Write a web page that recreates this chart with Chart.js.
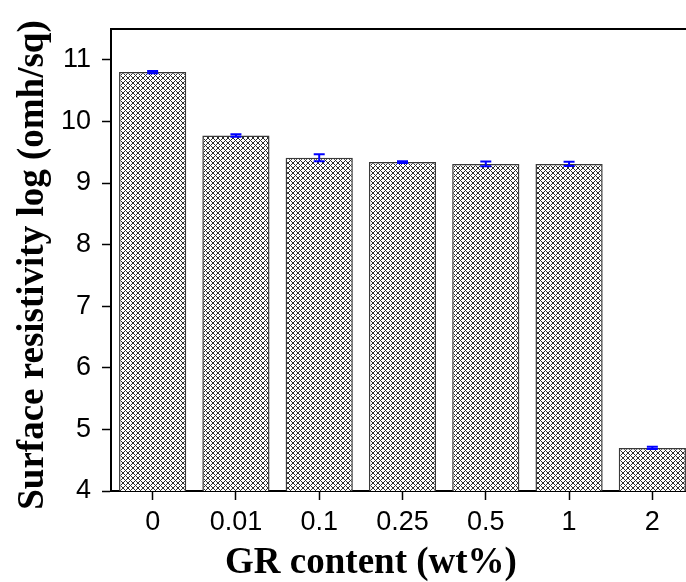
<!DOCTYPE html>
<html>
<head>
<meta charset="utf-8">
<script src="https://cdn.jsdelivr.net/npm/chart.js@4/dist/chart.umd.min.js"></script>
<style>
  html, body { margin: 0; padding: 0; background: #fff; overflow: hidden; }
  #wrap { width: 686px; height: 582px; overflow: hidden; }
</style>
</head>
<body>
<div id="wrap"><canvas id="resistivity-chart" width="702" height="582"></canvas></div>
<script>
const categories = ["0", "0.01", "0.1", "0.25", "0.5", "1", "2"];
const resistivity = [10.80, 9.77, 9.41, 9.34, 9.31, 9.31, 4.70];
const errors = [0.02, 0.02, 0.055, 0.015, 0.04, 0.035, 0.02];
const yTickValues = [4, 5, 6, 7, 8, 9, 10, 11];

const ctx = document.getElementById("resistivity-chart").getContext("2d");

// crosshatch fill for the bars
const tile = document.createElement("canvas");
tile.width = 5;
tile.height = 5;
const tctx = tile.getContext("2d");
tctx.fillStyle = "#ffffff";
tctx.fillRect(0, 0, 5, 5);
tctx.fillStyle = "#2e2e2e";
for (let x = 0; x < 5; x++) {
    for (let y = 0; y < 5; y++) {
        if ((x + y) % 5 === 0 || (x - y + 5) % 5 === 0) tctx.fillRect(x, y, 1, 1);
    }
}
const hatch = ctx.createPattern(tile, "repeat");

const extras = {
    id: "extras",
    afterDatasetsDraw: (chart) => {
        const c = chart.ctx;
        const meta = chart.getDatasetMeta(0);
        const y = chart.scales.y;
        c.save();
        c.strokeStyle = "#0000ff";
        c.lineWidth = 2;
        meta.data.forEach((bar, i) => {
            const top = y.getPixelForValue(resistivity[i] + errors[i]);
            const bot = y.getPixelForValue(resistivity[i] - errors[i]);
            c.beginPath();
            c.moveTo(bar.x, top); c.lineTo(bar.x, bot);
            c.moveTo(bar.x - 5.5, top); c.lineTo(bar.x + 5.5, top);
            c.moveTo(bar.x - 5.5, bot); c.lineTo(bar.x + 5.5, bot);
            c.stroke();
        });
        c.restore();
    },
    afterDraw: (chart) => {
        const c = chart.ctx;
        const area = chart.chartArea;
        c.save();
        // top frame line
        c.strokeStyle = "#000";
        c.lineWidth = 2;
        c.beginPath();
        c.moveTo(area.left, area.top);
        c.lineTo(chart.width, area.top);
        c.stroke();
        // axis titles
        c.fillStyle = "#000";
        c.font = "bold 37px 'Liberation Serif', 'Times New Roman', serif";
        c.textAlign = "center";
        c.textBaseline = "alphabetic";
        c.fillText("GR content (wt%)", 371, 573);
        c.translate(43, 265);
        c.rotate(-Math.PI / 2);
        c.fillText("Surface resistivity log (omh/sq)", 0, 0);
        c.restore();
    }
};

const data = {
    labels: categories,
    datasets: [
        {
            data: resistivity,
            backgroundColor: hatch,
            borderColor: "#3a3a3a",
            borderWidth: 1.5,
            borderSkipped: "bottom",
            barPercentage: 0.807,
            categoryPercentage: 1.0
        }
    ]
};

const tickFont = { family: "'Liberation Sans', Arial, sans-serif", size: 27 };

const config = {
    type: "bar",
    data: data,
    plugins: [extras],
    options: {
        responsive: false,
        animation: false,
        layout: { padding: { top: 29, right: 8, left: 0, bottom: 0 } },
        plugins: {
            legend: { display: false },
            tooltip: { enabled: false }
        },
        scales: {
            x: {
                afterFit: (scale) => { scale.height = 91; },
                ticks: { color: "#000", font: tickFont, padding: 6, maxRotation: 0, autoSkip: false },
                grid: { display: true, offset: false, drawOnChartArea: false, tickLength: 9, tickColor: "#000", tickWidth: 1.5 },
                border: { display: true, color: "#000", width: 2 }
            },
            y: {
                min: 4,
                max: 11.5,
                afterFit: (scale) => { scale.width = 111; },
                afterBuildTicks: (scale) => {
                    scale.ticks = yTickValues.map((v) => ({ value: v }));
                },
                ticks: { color: "#000", font: tickFont, padding: 11 },
                grid: { display: true, drawOnChartArea: false, tickLength: 9, tickColor: "#000", tickWidth: 1.5 },
                border: { display: true, color: "#000", width: 2 }
            }
        }
    }
};

const resistivityChart = new Chart(ctx, config);
</script>
</body>
</html>
